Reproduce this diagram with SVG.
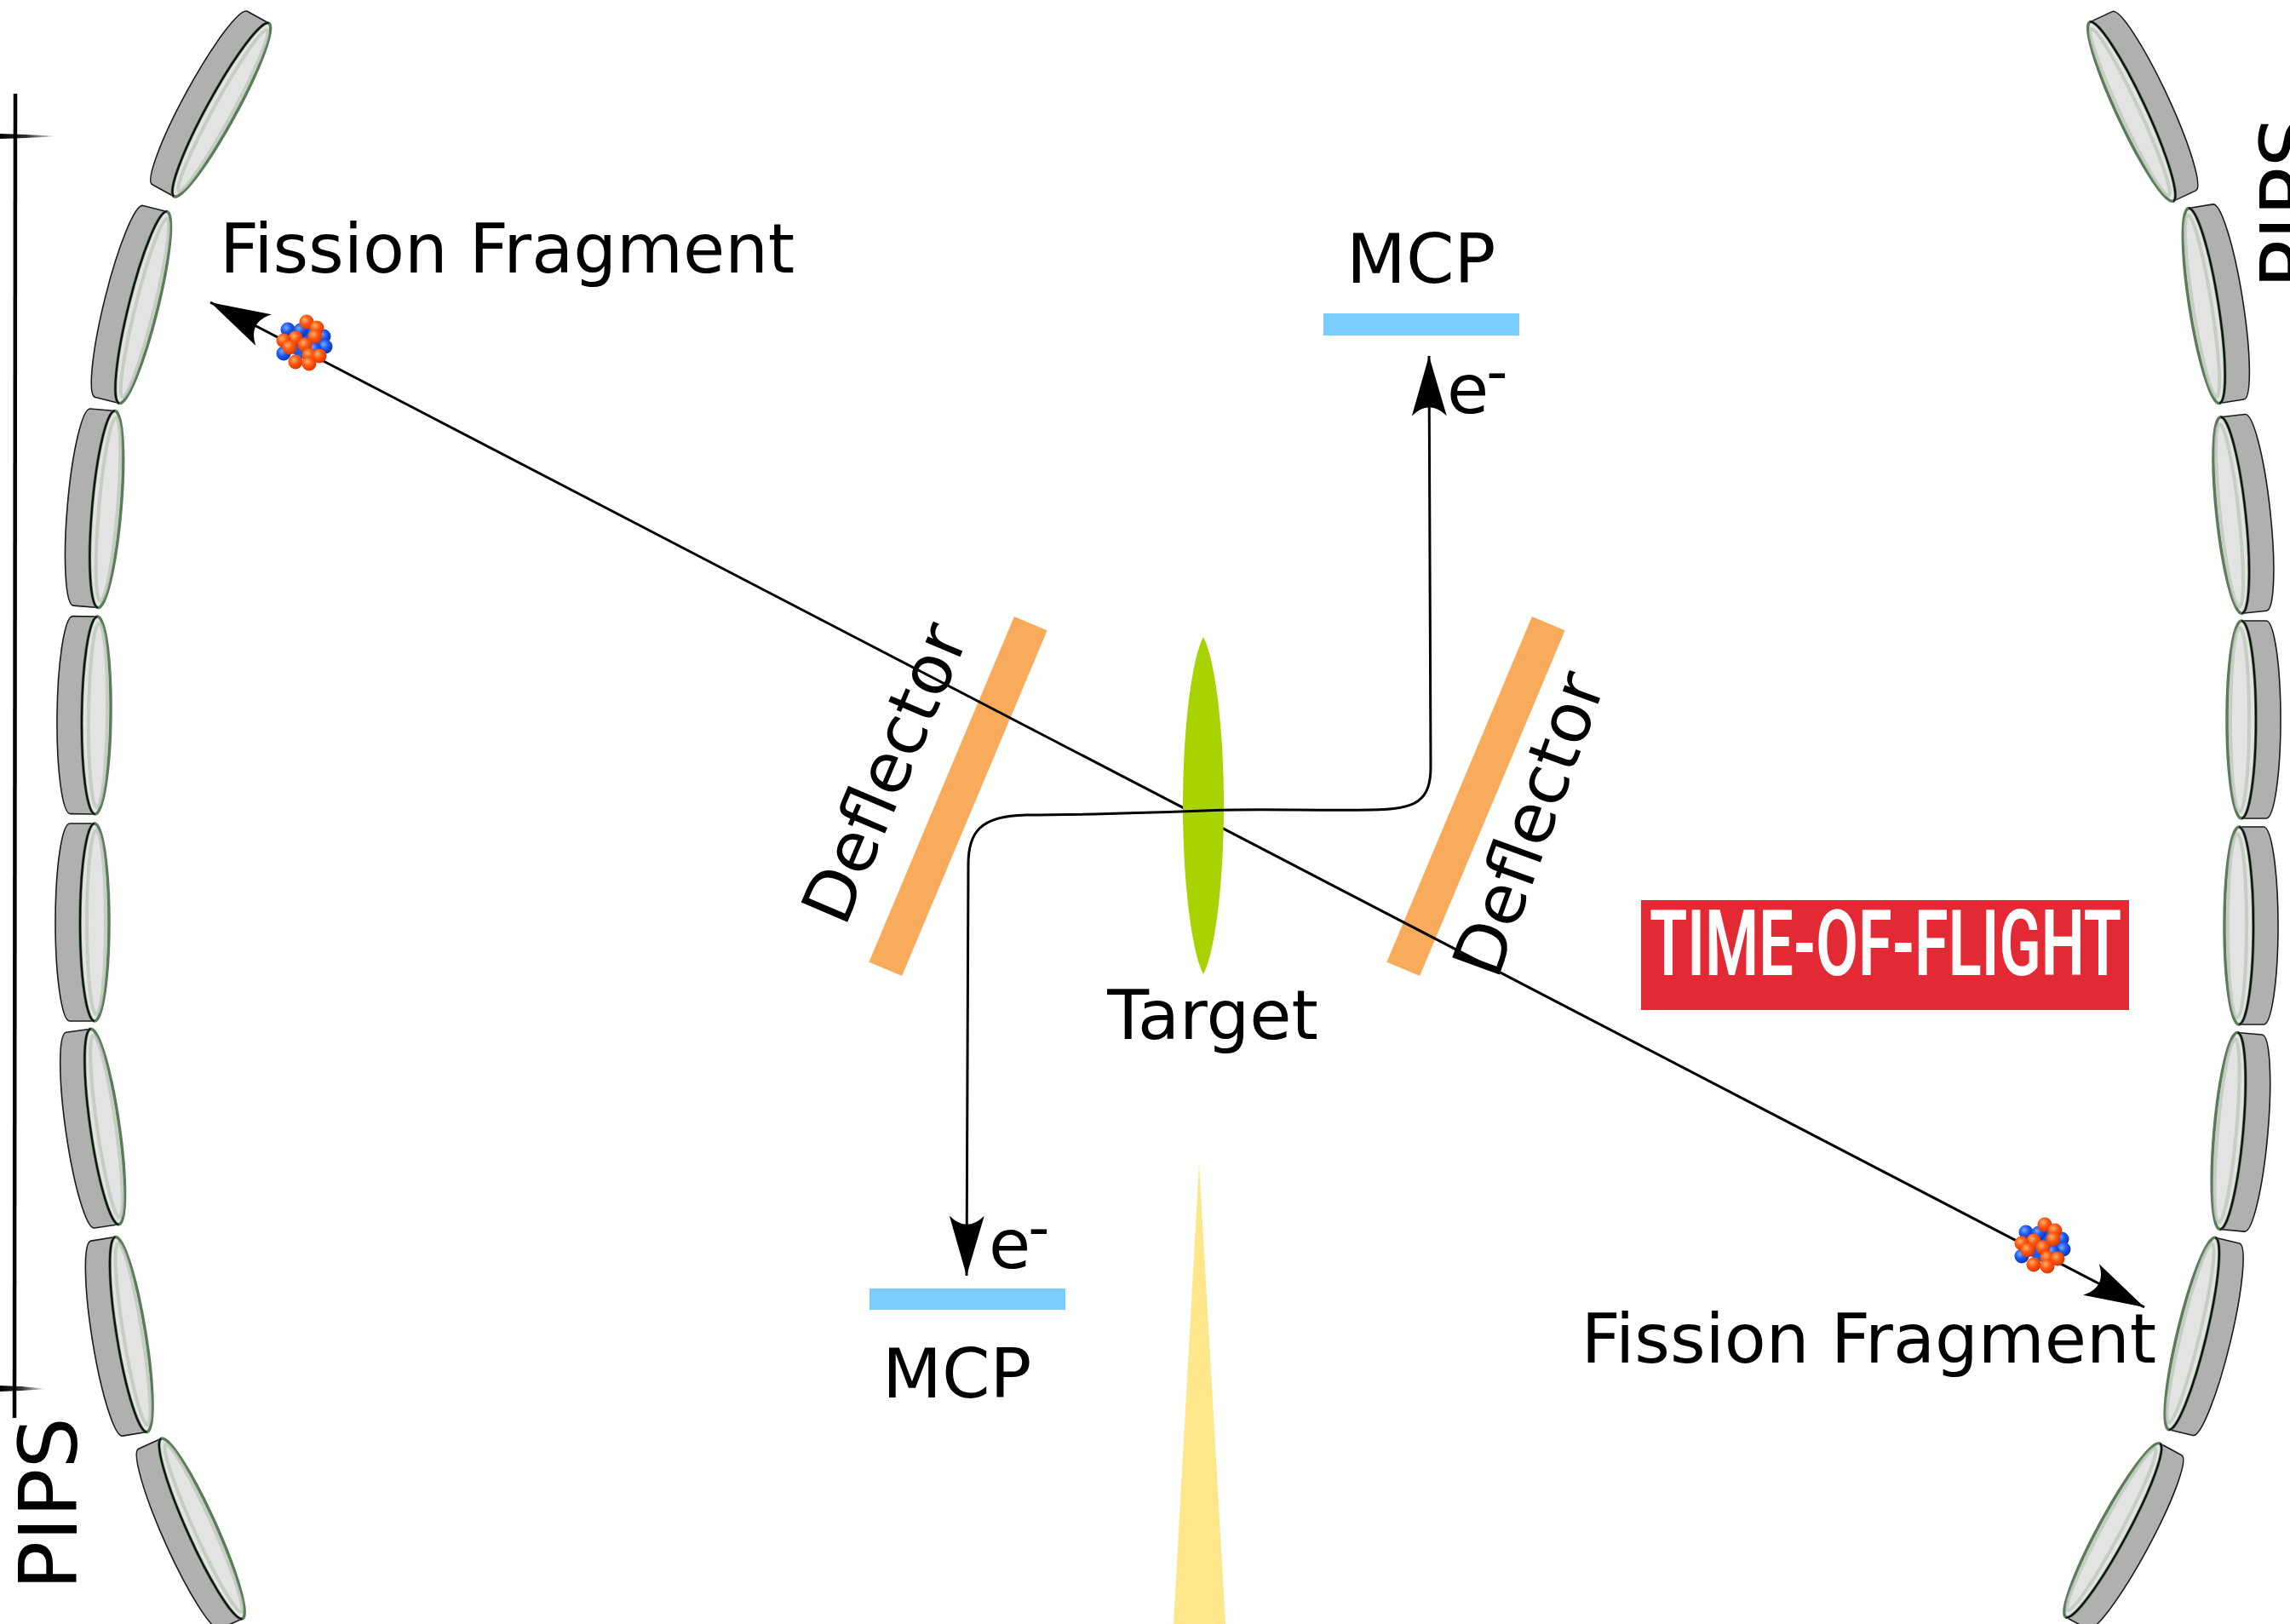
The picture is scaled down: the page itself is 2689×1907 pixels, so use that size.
<svg xmlns="http://www.w3.org/2000/svg" xmlns:xlink="http://www.w3.org/1999/xlink" width="2689" height="1907" viewBox="0 0 2689 1907">
  <style>
    .lbl { font-family: "DejaVu Sans", "Liberation Sans", sans-serif; fill: #000; }
    .side { fill: #b0b0b0; stroke: #1a1a1a; stroke-width: 1.6; stroke-linejoin: round; }
    .face { fill: #e3e3e3; stroke: #5a7c58; stroke-width: 3.5; }
    .shade { fill: none; stroke: #b9c4b7; stroke-width: 4; opacity: 0.7; }
    .rim { fill: none; stroke: #111; stroke-width: 2.2; }
    .track { fill: none; stroke: #000; stroke-width: 3; }
    .deflector { fill: #f8ab5b; }
    .mcp { fill: #7acdfc; }
  </style>
  <defs>
    <!-- silicon detector disk: face on the +x side, body behind it -->
    <g id="disk">
      <path class="side" d="M0,-116 L-29,-116 A17,116 0 0 0 -29,116 L0,116 Z"/>
      <ellipse class="face" cx="0" cy="0" rx="17" ry="116"/>
      <ellipse class="shade" cx="2" cy="0" rx="11" ry="108"/>
      <path class="rim" d="M0,-116 A17,116 0 0 0 0,116"/>
    </g>
    <radialGradient id="gOrange" cx="0.38" cy="0.35" r="0.7">
      <stop offset="0" stop-color="#ffb36a"/>
      <stop offset="0.45" stop-color="#ff5a12"/>
      <stop offset="1" stop-color="#d42f00"/>
    </radialGradient>
    <radialGradient id="gBlue" cx="0.38" cy="0.35" r="0.7">
      <stop offset="0" stop-color="#79aaff"/>
      <stop offset="0.45" stop-color="#1b5cf5"/>
      <stop offset="1" stop-color="#0a2fb0"/>
    </radialGradient>
    <linearGradient id="tickFade" x1="0" y1="0" x2="1" y2="0">
      <stop offset="0" stop-color="#000"/>
      <stop offset="0.45" stop-color="#000" stop-opacity="0.8"/>
      <stop offset="1" stop-color="#000" stop-opacity="0"/>
    </linearGradient>
    <!-- cluster of nucleons -->
    <g id="nucleus">
      <circle cx="3" cy="-2" r="22" fill="#1b5cf5"/>
      <circle cx="-19" cy="-15" r="8.5" fill="url(#gBlue)"/>
      <circle cx="-4" cy="-14" r="8.5" fill="url(#gBlue)"/>
      <circle cx="23" cy="-7" r="8.5" fill="url(#gBlue)"/>
      <circle cx="25" cy="5" r="8.5" fill="url(#gBlue)"/>
      <circle cx="-24" cy="13" r="8.5" fill="url(#gBlue)"/>
      <circle cx="12" cy="8" r="8.5" fill="url(#gBlue)"/>
      <circle cx="3" cy="-24" r="8.5" fill="url(#gOrange)"/>
      <circle cx="15" cy="-17" r="8.5" fill="url(#gOrange)"/>
      <circle cx="13" cy="-7" r="8.5" fill="url(#gOrange)"/>
      <circle cx="-10" cy="-5" r="8.5" fill="url(#gOrange)"/>
      <circle cx="-24" cy="-2" r="8.5" fill="url(#gOrange)"/>
      <circle cx="1" cy="3" r="8.5" fill="url(#gOrange)"/>
      <circle cx="-17" cy="6" r="8.5" fill="url(#gOrange)"/>
      <circle cx="6" cy="15" r="8.5" fill="url(#gOrange)"/>
      <circle cx="18" cy="16" r="8.5" fill="url(#gOrange)"/>
      <circle cx="-10" cy="23" r="8.5" fill="url(#gOrange)"/>
      <circle cx="6" cy="25" r="8.5" fill="url(#gOrange)"/>
    </g>
    <marker id="head" markerUnits="userSpaceOnUse" markerWidth="80" markerHeight="50" viewBox="-64 -22 68 44" refX="0" refY="0" orient="auto-start-reverse">
      <path d="M0,0 L-62,-18 Q-44,0 -62,18 Z" fill="#000"/>
    </marker>
  </defs>

  <rect width="2689" height="1907" fill="#fff"/>

  <!-- incoming beam -->
  <g id="beam">
    <polygon points="1408,1366 1439,1907 1378,1907" fill="#fee78b"/>
  </g>

  <!-- deflector plates -->
  <g id="deflector-left">
    <rect class="deflector" x="-21" y="-220" width="42" height="440" transform="translate(1125,935) rotate(22.8)"/>
  </g>
  <g id="deflector-right">
    <rect class="deflector" x="-21" y="-220" width="42" height="440" transform="translate(1733,935) rotate(22.8)"/>
  </g>

  <!-- fission fragment track -->
  <g id="connectors">
    <path id="fragment-track" class="track" d="M247,355 L2518,1535" marker-start="url(#head)" marker-end="url(#head)"/>
  </g>

  <!-- target foil -->
  <g id="target">
    <path d="M1413,748 C1426,772 1437,852 1437,946 C1437,1040 1426,1120 1413,1144 C1400,1120 1389,1040 1389,946 C1389,852 1400,772 1413,748 Z" fill="#a7d301"/>
  </g>

  <!-- electron track, drawn over the foil -->
  <g id="electron-connectors">
    <path id="electron-track" class="track" d="M1678,418 L1680,900 C1680,940 1664,951 1610,951 C1520,952 1470,949 1413,952 C1330,955 1260,957 1205,957 C1150,958 1137,978 1137,1015 L1135,1498" marker-start="url(#head)" marker-end="url(#head)"/>
  </g>

  <!-- MCP detectors -->
  <g id="mcp-top">
    <rect class="mcp" x="1554" y="368" width="230" height="26"/>
    <text class="lbl" x="1581" y="332" font-size="81">MCP</text>
  </g>
  <g id="mcp-bottom">
    <rect class="mcp" x="1021" y="1513" width="230" height="25"/>
    <text class="lbl" x="1036" y="1641" font-size="81">MCP</text>
  </g>

  <!-- electron labels -->
  <text class="lbl" x="1699" y="485" font-size="80">e<tspan font-size="70" dx="-3" dy="-25">-</tspan></text>
  <text class="lbl" x="1161" y="1489" font-size="80">e<tspan font-size="70" dx="-3" dy="-24">-</tspan></text>

  <!-- left detector array -->
  <g id="pips-left">
    <use xlink:href="#disk" href="#disk" transform="translate(260,129) rotate(28.7)"/>
    <use xlink:href="#disk" href="#disk" transform="translate(168,361) rotate(14)"/>
    <use xlink:href="#disk" href="#disk" transform="translate(125,598) rotate(4.9)"/>
    <use xlink:href="#disk" href="#disk" transform="translate(113,840) rotate(0.7)"/>
    <use xlink:href="#disk" href="#disk" transform="translate(111,1083)"/>
    <use xlink:href="#disk" href="#disk" transform="translate(123,1323) rotate(-8.2)"/>
    <use xlink:href="#disk" href="#disk" transform="translate(154,1567) rotate(-9.2)"/>
    <use xlink:href="#disk" href="#disk" transform="translate(237,1795) rotate(-24.3)"/>
  </g>

  <!-- right detector array -->
  <g id="pips-right">
    <use xlink:href="#disk" href="#disk" transform="translate(2503,131) rotate(-25) scale(-1,1)"/>
    <use xlink:href="#disk" href="#disk" transform="translate(2588,359) rotate(-9) scale(-1,1)"/>
    <use xlink:href="#disk" href="#disk" transform="translate(2620,605) rotate(-6.2) scale(-1,1)"/>
    <use xlink:href="#disk" href="#disk" transform="translate(2632,845) scale(-1,1)"/>
    <use xlink:href="#disk" href="#disk" transform="translate(2629,1087) scale(-1,1)"/>
    <use xlink:href="#disk" href="#disk" transform="translate(2617,1328) rotate(5.1) scale(-1,1)"/>
    <use xlink:href="#disk" href="#disk" transform="translate(2574,1566) rotate(13.6) scale(-1,1)"/>
    <use xlink:href="#disk" href="#disk" transform="translate(2481,1797) rotate(28.4) scale(-1,1)"/>
  </g>

  <!-- fragments -->
  <g id="fragment-top">
    <use xlink:href="#nucleus" href="#nucleus" transform="translate(357,402)"/>
  </g>
  <g id="fragment-bottom">
    <use xlink:href="#nucleus" href="#nucleus" transform="translate(2398,1462)"/>
  </g>

  <!-- scale bar on the left -->
  <g id="scale-bar">
    <path d="M18,110 L17,1665" stroke="#000" stroke-width="4.5" fill="none"/>
    <path d="M0,157 L30,158 L70,160 L30,162 L0,163 Z" fill="url(#tickFade)"/>
    <path d="M0,1627 L25,1628 L56,1631 L25,1633 L0,1634 Z" fill="url(#tickFade)"/>
  </g>

  <!-- labels -->
  <text class="lbl" x="258" y="320" font-size="80">Fission Fragment</text>
  <text class="lbl" x="2532" y="1600" font-size="80" text-anchor="end">Fission Fragment</text>
  <text class="lbl" x="1424" y="1220" font-size="80" text-anchor="middle">Target</text>
  <text class="lbl" font-size="81" transform="translate(992,1090) rotate(-67)">Deflector</text>
  <text class="lbl" font-size="81" transform="translate(1758,1152) rotate(-70)">Deflector</text>
  <text class="lbl" font-size="95" transform="translate(90,1867) rotate(-90)">PIPS</text>
  <text class="lbl" font-size="95" transform="translate(2722,339) rotate(-90)">PIPS</text>

  <!-- time-of-flight banner -->
  <g id="tof-banner">
    <rect x="1927" y="1057" width="573" height="129" fill="#e22934"/>
    <text x="1937" y="1145" textLength="554" lengthAdjust="spacingAndGlyphs" font-family="Roboto, 'Liberation Sans', sans-serif" font-weight="600" font-size="108" fill="#fff">TIME-OF-FLIGHT</text>
  </g>
</svg>
